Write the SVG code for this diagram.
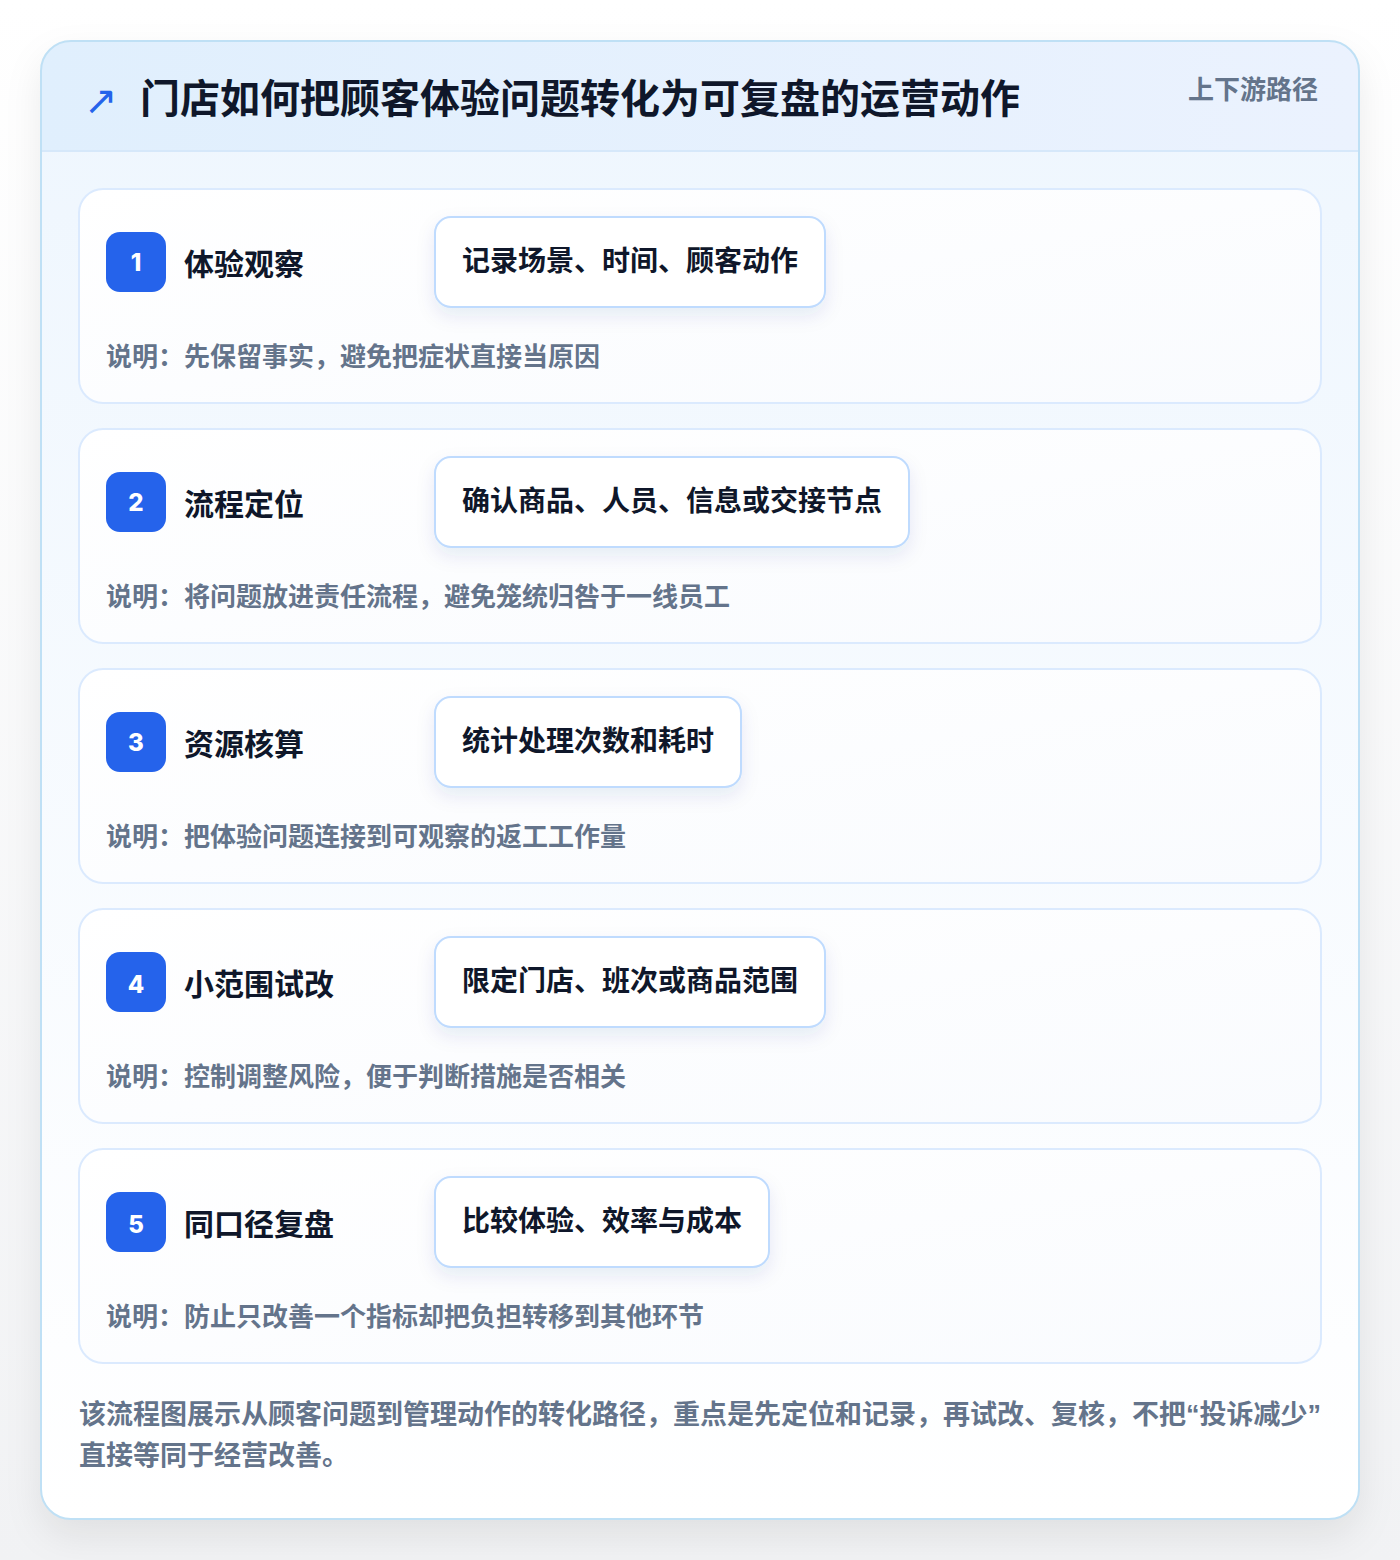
<svg xmlns="http://www.w3.org/2000/svg" width="1400" height="1560" viewBox="0 0 1400 1560">
<defs>
<linearGradient id="pageGrad" x1="0" y1="0" x2="0" y2="1">
<stop offset="0" stop-color="#ffffff"/>
<stop offset="1" stop-color="#f1f2f4"/>
</linearGradient>
<linearGradient id="bodyGrad" x1="0" y1="0" x2="0" y2="1">
<stop offset="0" stop-color="#eef6fe"/>
<stop offset="1" stop-color="#ffffff"/>
</linearGradient>
<linearGradient id="headGrad" x1="0" y1="0" x2="1" y2="0">
<stop offset="0" stop-color="#e0effd"/>
<stop offset="1" stop-color="#ebf2fe"/>
</linearGradient>
<linearGradient id="cardGrad" x1="0" y1="0" x2="1" y2="1">
<stop offset="0" stop-color="#ffffff"/>
<stop offset="1" stop-color="#f9fbfe"/>
</linearGradient>
<filter id="outerShadow" x="-10%" y="-10%" width="120%" height="120%">
<feDropShadow dx="0" dy="16" stdDeviation="18" flood-color="#0f172a" flood-opacity="0.08"/>
</filter>
<filter id="boxShadow" x="-20%" y="-30%" width="140%" height="180%">
<feDropShadow dx="0" dy="8" stdDeviation="9" flood-color="#1e3a8a" flood-opacity="0.09"/>
</filter>
<clipPath id="outerClip"><rect x="41" y="41" width="1318" height="1478" rx="30"/></clipPath>
<style>
.cjk{font-family:"Noto Sans CJK SC","Noto Sans",sans-serif;font-weight:700}
.card{fill:url(#cardGrad);stroke:#dbeafe;stroke-width:2}
.badge{fill:#2563eb}
.num{fill:#ffffff;font-family:"Inter","Noto Sans CJK SC",sans-serif;font-weight:800;font-size:24px;text-anchor:middle}
.title{fill:#0f172a;font-size:30px}
.box{fill:#ffffff;stroke:#bfdbfe;stroke-width:2;filter:url(#boxShadow)}
.boxText{fill:#0f172a;font-size:28px}
.desc{fill:#64748b;font-size:26px}
.foot{fill:#64748b;font-size:27px}
.q{font-family:"Liberation Sans",sans-serif}
</style>
</defs>
<rect x="0" y="0" width="1400" height="1560" fill="url(#pageGrad)"/>
<g id="frame">
<rect x="41" y="41" width="1318" height="1478" rx="30" fill="url(#bodyGrad)" filter="url(#outerShadow)"/>
<rect x="41" y="41" width="1318" height="110" fill="url(#headGrad)" clip-path="url(#outerClip)"/>
<line x1="41" y1="151" x2="1359" y2="151" stroke="#d6e8fa" stroke-width="2"/>
<rect x="41" y="41" width="1318" height="1478" rx="30" fill="none" stroke="#bfe0f5" stroke-width="2"/>
</g>
<g id="header">
<text x="84" y="114" fill="#2563eb" font-family="DejaVu Sans,sans-serif" font-size="40">↗</text>
<text class="cjk" x="140" y="113" fill="#0f172a" font-size="40" font-weight="900">门店如何把顾客体验问题转化为可复盘的运营动作</text>
<text class="cjk" x="1318" y="99" fill="#64748b" font-size="26" text-anchor="end">上下游路径</text>
</g>
<g id="step1">
<rect class="card" x="79" y="189" width="1242" height="214" rx="24"/>
<rect class="badge" x="106" y="232" width="60" height="60" rx="14"/>
<text class="num" x="136" y="271">1</text>
<text class="cjk title" x="184" y="275">体验观察</text>
<rect class="box" x="435" y="217" width="390" height="90" rx="16"/>
<text class="cjk boxText" x="462" y="271">记录场景、时间、顾客动作</text>
<text class="cjk desc" x="106" y="366">说明：先保留事实，避免把症状直接当原因</text>
</g>
<g id="step2">
<rect class="card" x="79" y="429" width="1242" height="214" rx="24"/>
<rect class="badge" x="106" y="472" width="60" height="60" rx="14"/>
<text class="num" x="136" y="511">2</text>
<text class="cjk title" x="184" y="515">流程定位</text>
<rect class="box" x="435" y="457" width="474" height="90" rx="16"/>
<text class="cjk boxText" x="462" y="511">确认商品、人员、信息或交接节点</text>
<text class="cjk desc" x="106" y="606">说明：将问题放进责任流程，避免笼统归咎于一线员工</text>
</g>
<g id="step3">
<rect class="card" x="79" y="669" width="1242" height="214" rx="24"/>
<rect class="badge" x="106" y="712" width="60" height="60" rx="14"/>
<text class="num" x="136" y="751">3</text>
<text class="cjk title" x="184" y="755">资源核算</text>
<rect class="box" x="435" y="697" width="306" height="90" rx="16"/>
<text class="cjk boxText" x="462" y="751">统计处理次数和耗时</text>
<text class="cjk desc" x="106" y="846">说明：把体验问题连接到可观察的返工工作量</text>
</g>
<g id="step4">
<rect class="card" x="79" y="909" width="1242" height="214" rx="24"/>
<rect class="badge" x="106" y="952" width="60" height="60" rx="14"/>
<text class="num" x="136" y="993">4</text>
<text class="cjk title" x="184" y="995">小范围试改</text>
<rect class="box" x="435" y="937" width="390" height="90" rx="16"/>
<text class="cjk boxText" x="462" y="991">限定门店、班次或商品范围</text>
<text class="cjk desc" x="106" y="1086">说明：控制调整风险，便于判断措施是否相关</text>
</g>
<g id="step5">
<rect class="card" x="79" y="1149" width="1242" height="214" rx="24"/>
<rect class="badge" x="106" y="1192" width="60" height="60" rx="14"/>
<text class="num" x="136" y="1233">5</text>
<text class="cjk title" x="184" y="1235">同口径复盘</text>
<rect class="box" x="435" y="1177" width="334" height="90" rx="16"/>
<text class="cjk boxText" x="462" y="1231">比较体验、效率与成本</text>
<text class="cjk desc" x="106" y="1326">说明：防止只改善一个指标却把负担转移到其他环节</text>
</g>
<g id="connectors"></g>
<g id="footer">
<text class="cjk foot" x="79" y="1424">该流程图展示从顾客问题到管理动作的转化路径，重点是先定位和记录，再试改、复核，不把<tspan class="q">“</tspan>投诉减少<tspan class="q">”</tspan></text>
<text class="cjk foot" x="79" y="1465">直接等同于经营改善。</text>
</g>
</svg>
